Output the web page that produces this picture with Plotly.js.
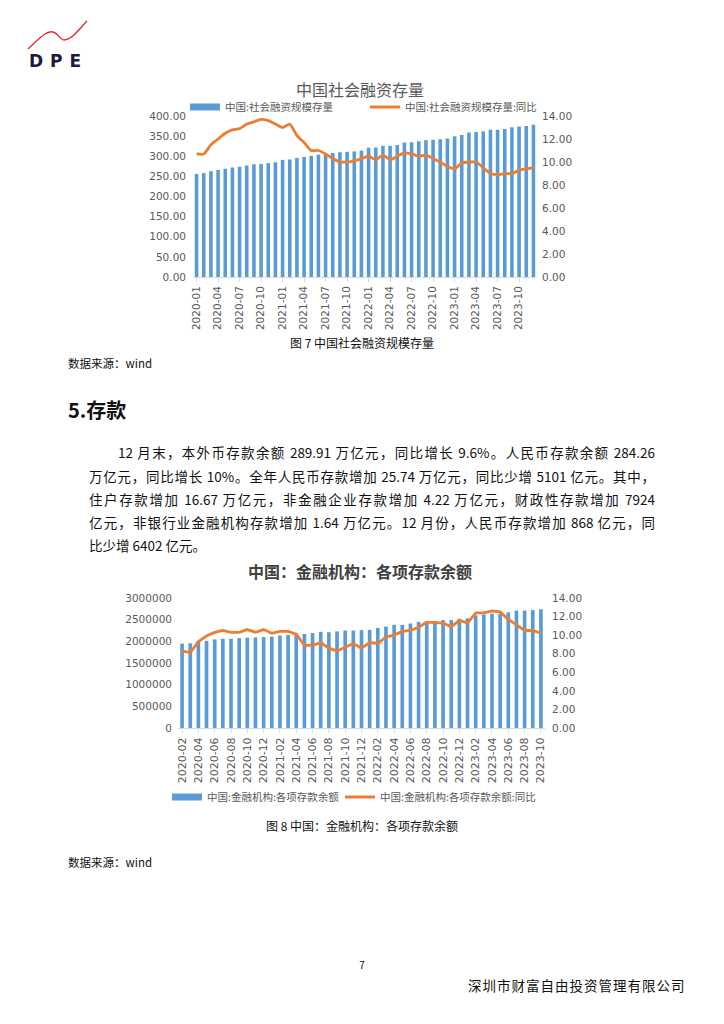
<!DOCTYPE html>
<html><head><meta charset="utf-8">
<script src="https://cdn.plot.ly/plotly-3.0.1.min.js"></script>
<style>
body{margin:0;background:#fff;}
#page{position:relative;width:724px;height:1024px;overflow:hidden;background:#fff;font-family:"Noto Sans CJK SC",sans-serif;color:#111;}
.abs{position:absolute;white-space:nowrap;}
.ln{position:absolute;white-space:nowrap;font-size:13.5px;line-height:20px;height:20px;text-align:justify;text-align-last:justify;color:#111;}
</style></head><body>
<div id="page">
 <svg class="abs" style="left:0;top:0" width="120" height="80">
  <path d="M28,49 C38,40 46,30 53,32 C58,33 60,40 64,40 C72,40 80,28 87,21" stroke="#e0262b" stroke-width="1.3" fill="none"/>
  <text x="29" y="67" font-family="DejaVu Sans" font-weight="bold" font-size="17" letter-spacing="7" fill="#1b1b3c">DPE</text>
 </svg>
 <div id="c1" class="abs" style="left:60px;top:75px;width:600px;height:260px"></div>
 <div class="abs" style="left:0;width:724px;top:334px;text-align:center;font-size:12px;line-height:18px;">图 7 中国社会融资规模存量</div>
 <div class="abs" style="left:68px;top:354px;font-size:11.5px;line-height:18px;">数据来源：wind</div>
 <div class="abs" style="left:68px;top:396px;font-size:20px;line-height:28px;font-weight:bold;">5.存款</div>
 <div class="ln" style="left:118px;width:537px;top:442px;">12 月末，本外币存款余额 289.91 万亿元，同比增长 9.6%。人民币存款余额 284.26</div>
 <div class="ln" style="left:89px;width:566px;top:466px;">万亿元，同比增长 10%。全年人民币存款增加 25.74 万亿元，同比少增 5101 亿元。其中，</div>
 <div class="ln" style="left:89px;width:566px;top:489px;">住户存款增加 16.67 万亿元，非金融企业存款增加 4.22 万亿元，财政性存款增加 7924</div>
 <div class="ln" style="left:89px;width:566px;top:512px;">亿元，非银行业金融机构存款增加 1.64 万亿元。12 月份，人民币存款增加 868 亿元，同</div>
 <div class="ln" style="left:89px;top:535px;text-align:left;text-align-last:left;">比少增 6402 亿元。</div>
 <div id="c2" class="abs" style="left:60px;top:555px;width:600px;height:260px"></div>
 <div class="abs" style="left:0;width:724px;top:817px;text-align:center;font-size:12px;line-height:18px;">图 8 中国：金融机构：各项存款余额</div>
 <div class="abs" style="left:68px;top:853px;font-size:11.5px;line-height:18px;">数据来源：wind</div>
 <div class="abs" style="left:0;width:724px;top:958px;text-align:center;font-size:10px;line-height:14px;">7</div>
 <div class="abs" style="left:468px;top:976px;font-size:13.5px;line-height:18px;letter-spacing:1px;">深圳市财富自由投资管理有限公司</div>
</div>
<script>
// Chart 1: 中国社会融资规模存量 (万亿元) and 同比 (%)
var months1 = ["2020-01","2020-02","2020-03","2020-04","2020-05","2020-06","2020-07","2020-08","2020-09","2020-10","2020-11","2020-12",
"2021-01","2021-02","2021-03","2021-04","2021-05","2021-06","2021-07","2021-08","2021-09","2021-10","2021-11","2021-12",
"2022-01","2022-02","2022-03","2022-04","2022-05","2022-06","2022-07","2022-08","2022-09","2022-10","2022-11","2022-12",
"2023-01","2023-02","2023-03","2023-04","2023-05","2023-06","2023-07","2023-08","2023-09","2023-10","2023-11","2023-12"];
var tsfStock = [256,258,263,266,269,272,274,277,280,281,283,285,
291,292,296,298,301,304,305,308,310,311,312,314,
321,322,326,326,328,334,335,337,340,341,342,344,
350,353,359,360,362,366,366,368,372,374,375,378];
var tsfYoY = [10.7,10.7,11.5,12.0,12.5,12.8,12.9,13.3,13.5,13.7,13.6,13.3,
13.0,13.3,12.3,11.7,11.0,11.0,10.7,10.3,10.0,10.0,10.1,10.3,
10.5,10.2,10.6,10.2,10.5,10.8,10.7,10.5,10.6,10.3,10.0,9.6,
9.4,9.9,10.0,10.0,9.5,9.0,8.9,9.0,9.0,9.3,9.4,9.5];
var ticks1 = ["2020-01","2020-04","2020-07","2020-10","2021-01","2021-04","2021-07","2021-10","2022-01","2022-04","2022-07","2022-10","2023-01","2023-04","2023-07","2023-10"];

// Chart 2: 中国:金融机构:各项存款余额 (亿元) and 同比 (%)
var months2 = ["2020-02","2020-03","2020-04","2020-05","2020-06","2020-07","2020-08","2020-09","2020-10","2020-11","2020-12",
"2021-01","2021-02","2021-03","2021-04","2021-05","2021-06","2021-07","2021-08","2021-09","2021-10","2021-11","2021-12",
"2022-01","2022-02","2022-03","2022-04","2022-05","2022-06","2022-07","2022-08","2022-09","2022-10","2022-11","2022-12",
"2023-01","2023-02","2023-03","2023-04","2023-05","2023-06","2023-07","2023-08","2023-09","2023-10"];
var deposits = [1950000,1955000,2000000,2010000,2045000,2060000,2060000,2075000,2085000,2090000,2100000,
2110000,2135000,2150000,2175000,2170000,2190000,2220000,2210000,2230000,2250000,2250000,2260000,
2265000,2310000,2340000,2380000,2380000,2410000,2450000,2450000,2470000,2490000,2490000,2520000,
2530000,2600000,2620000,2640000,2640000,2670000,2710000,2710000,2720000,2740000];
var depYoY = [8.3,8.1,9.3,9.9,10.3,10.5,10.3,10.3,10.6,10.3,10.6,
10.2,10.4,10.4,10.1,8.9,8.9,9.2,8.6,8.3,8.7,9.1,8.6,
9.2,9.1,9.8,10.0,10.4,10.5,10.85,11.4,11.35,11.3,10.9,11.6,
11.3,12.4,12.4,12.6,12.5,11.7,11.1,10.5,10.5,10.2];
var ticks2 = ["2020-02","2020-04","2020-06","2020-08","2020-10","2020-12","2021-02","2021-04","2021-06","2021-08","2021-10","2021-12",
"2022-02","2022-04","2022-06","2022-08","2022-10","2022-12","2023-02","2023-04","2023-06","2023-08","2023-10"];

var blue = "#5b9bd5", orange = "#ed7d31", gray = "#595959";
var fnt = "Noto Sans CJK SC, sans-serif";
var numFnt = "DejaVu Sans, sans-serif";
var cfg = {staticPlot:true, displayModeBar:false};

function leg(x, y, size) {
 return {orientation:"h", x:x, xref:"container", xanchor:"left", y:y, yref:"container", yanchor:"middle",
  font:{size:size, color:gray}, itemwidth:30, bgcolor:"rgba(0,0,0,0)"};
}

Plotly.newPlot("c1", [
 {type:"scatter", mode:"lines", x:[null], y:[null], name:"中国:社会融资规模存量", line:{color:blue, width:7}, hoverinfo:"skip", legend:"legend"},
 {type:"bar", x:months1, y:tsfStock, name:"中国:社会融资规模存量", marker:{color:blue}, showlegend:false},
 {type:"scatter", mode:"lines", x:months1, y:tsfYoY, yaxis:"y2", name:"中国:社会融资规模存量:同比", line:{color:orange, width:2.8, shape:"spline", smoothing:0.6}, legend:"legend2"}
], {
 width:600, height:260, paper_bgcolor:"#fff", plot_bgcolor:"#fff",
 margin:{l:133, r:123, t:41, b:58, autoexpand:false},
 bargap:0.5, font:{family:fnt, color:gray, size:10.5},
 title:{text:"中国社会融资存量", font:{size:16, color:gray, family:fnt}, x:0.5, xanchor:"center", y:1-15/260, yanchor:"middle", yref:"container"},
 showlegend:true,
 legend:leg(125/600, 1-32/260, 10.5),
 legend2:leg(305/600, 1-32/260, 10.5),
 xaxis:{type:"category", tickmode:"array", tickvals:ticks1, ticktext:ticks1, tickangle:-90, tickfont:{size:10.5, color:gray, family:numFnt}, showline:true, linecolor:"#d9d9d9", ticks:"outside", ticklen:4, tickcolor:"#d9d9d9", showgrid:false, zeroline:false},
 yaxis:{range:[0,400], dtick:50, tickformat:".2f", showgrid:false, zeroline:false, showline:false, tickfont:{size:10.5, color:gray, family:numFnt}, ticklabelstandoff:6},
 yaxis2:{range:[0,14], dtick:2, tickformat:".2f", overlaying:"y", side:"right", showgrid:false, zeroline:false, showline:false, tickfont:{size:10.5, color:gray, family:numFnt}, ticklabelstandoff:4}
}, cfg);

Plotly.newPlot("c2", [
 {type:"scatter", mode:"lines", x:[null], y:[null], name:"中国:金融机构:各项存款余额", line:{color:blue, width:7}, hoverinfo:"skip", legend:"legend"},
 {type:"bar", x:months2, y:deposits, name:"中国:金融机构:各项存款余额", marker:{color:blue}, showlegend:false},
 {type:"scatter", mode:"lines", x:months2, y:depYoY, yaxis:"y2", name:"中国:金融机构:各项存款余额:同比", line:{color:orange, width:2.8}, legend:"legend2"}
], {
 width:600, height:260, paper_bgcolor:"#fff", plot_bgcolor:"#fff",
 margin:{l:118, r:115, t:43, b:87, autoexpand:false},
 bargap:0.55, font:{family:fnt, color:gray, size:10.5},
 title:{text:"<b>中国：金融机构：各项存款余额</b>", font:{size:16, color:"#404040", family:fnt}, x:0.5, xanchor:"center", y:1-17/260, yanchor:"middle", yref:"container"},
 showlegend:true,
 legend:leg(107/600, 1-242/260, 10.5),
 legend2:leg(280/600, 1-242/260, 10.5),
 xaxis:{type:"category", tickmode:"array", tickvals:ticks2, ticktext:ticks2, tickangle:-90, tickfont:{size:11, color:gray, family:numFnt}, showline:true, linecolor:"#d9d9d9", ticks:"outside", ticklen:4, tickcolor:"#d9d9d9", showgrid:false, zeroline:false},
 yaxis:{range:[0,3000000], dtick:500000, tickformat:"d", showgrid:false, zeroline:false, showline:false, tickfont:{size:10.5, color:gray, family:numFnt}, ticklabelstandoff:5},
 yaxis2:{range:[0,14], dtick:2, tickformat:".2f", overlaying:"y", side:"right", showgrid:false, zeroline:false, showline:false, tickfont:{size:10.5, color:gray, family:numFnt}, ticklabelstandoff:6}
}, cfg);
</script>
</body></html>
